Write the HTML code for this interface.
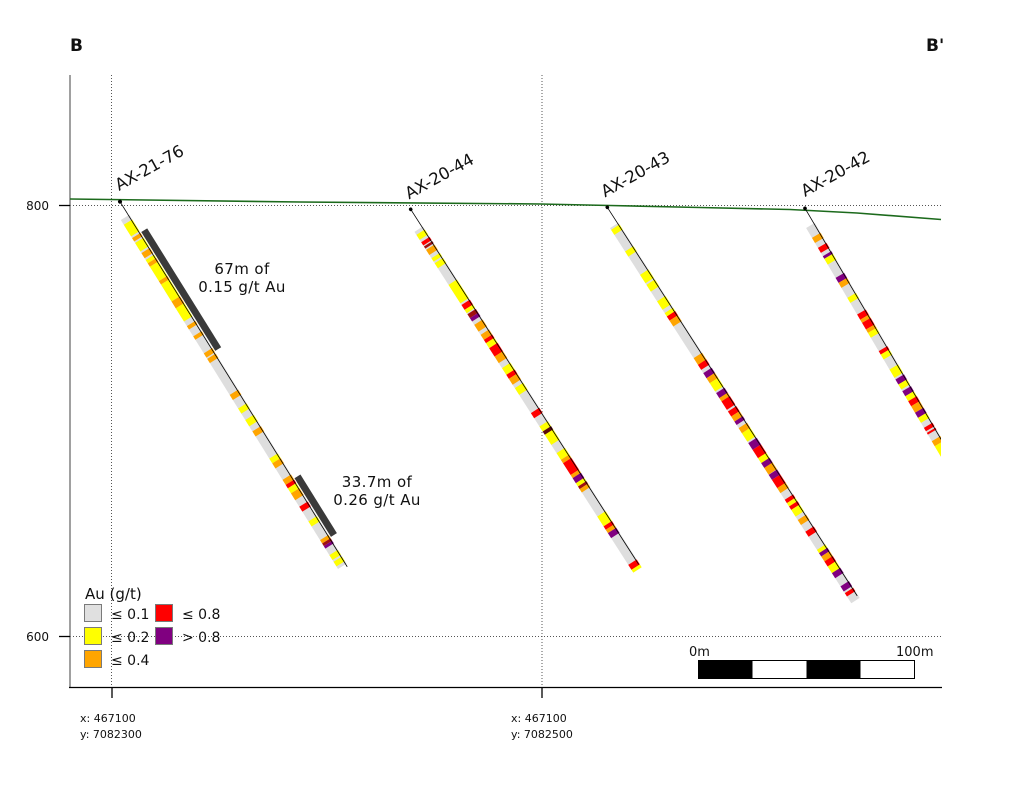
<!DOCTYPE html>
<html><head><meta charset="utf-8">
<style>
html,body{margin:0;padding:0;background:#fff;}
svg{display:block;}
text{font-family:"DejaVu Sans","Liberation Sans",sans-serif;fill:#111;}
.g{fill:#dedede}.y{fill:#ffff00}.o{fill:#ffa500}.r{fill:#ff0000}.p{fill:#800080}.d{fill:#a01010}
</style></head>
<body>
<svg width="1024" height="792" viewBox="0 0 1024 792" xmlns="http://www.w3.org/2000/svg">
<defs><clipPath id="cp"><rect x="0" y="0" width="941" height="792"/></clipPath></defs>

<!-- titles -->
<text x="70" y="51" font-size="17" font-weight="bold">B</text>
<text x="926" y="51" font-size="17" font-weight="bold">B'</text>

<!-- grid dotted -->
<g stroke="#555" stroke-width="1" stroke-dasharray="1,2" fill="none">
<line x1="111.5" y1="75" x2="111.5" y2="687"/>
<line x1="542" y1="75" x2="542" y2="687"/>
<line x1="70" y1="205.5" x2="941" y2="205.5"/>
<line x1="70" y1="636.5" x2="941" y2="636.5"/>
</g>

<!-- axes -->
<line x1="70" y1="75" x2="70" y2="688" stroke="#808080" stroke-width="1.5"/>
<line x1="69" y1="687.5" x2="942" y2="687.5" stroke="#000" stroke-width="1.3"/>
<line x1="59" y1="205.5" x2="70" y2="205.5" stroke="#000" stroke-width="1.3"/>
<line x1="59" y1="636.5" x2="70" y2="636.5" stroke="#000" stroke-width="1.3"/>
<line x1="112" y1="687" x2="112" y2="698" stroke="#000" stroke-width="1.3"/>
<line x1="542" y1="687" x2="542" y2="698" stroke="#000" stroke-width="1.3"/>
<text x="49" y="210" font-size="12" text-anchor="end">800</text>
<text x="49" y="641" font-size="12" text-anchor="end">600</text>

<text x="80" y="722" font-size="11">x: 467100</text>
<text x="80" y="738" font-size="11">y: 7082300</text>
<text x="511" y="722" font-size="11">x: 467100</text>
<text x="511" y="738" font-size="11">y: 7082500</text>

<!-- surface line -->
<path d="M70,199 L300,202 L540,204 L610,205.5 L700,207.5 L790,209.5 L857,213 L941,219.5" stroke="#1c6a1c" stroke-width="1.6" fill="none"/>

<!-- Hole 1 -->
<g transform="translate(120,201.7) rotate(58.1)">
<rect class="g" x="16" y="-1" width="411" height="10"/>
<g>
<rect class="y" x="21.6" y="-1" width="13.7" height="10"/>
<rect class="o" x="37.3" y="-1" width="4" height="10"/>
<rect class="y" x="43" y="-1" width="10" height="10"/>
<rect class="o" x="55" y="-1" width="6" height="10"/>
<rect class="y" x="63" y="-1" width="4" height="10"/>
<rect class="o" x="67" y="-1" width="4" height="10"/>
<rect class="y" x="71" y="-1" width="17" height="10"/>
<rect class="o" x="88" y="-1" width="4" height="10"/>
<rect class="y" x="92" y="-1" width="20" height="10"/>
<rect class="o" x="112" y="-1" width="8" height="10"/>
<rect class="y" x="120" y="-1" width="15.5" height="10"/>
<rect class="o" x="141" y="-1" width="4" height="10"/>
<rect class="o" x="153" y="-1" width="4" height="10"/>
<rect class="o" x="173" y="-1" width="5" height="10"/>
<rect class="o" x="179.5" y="-1" width="5" height="10"/>
<rect class="o" x="222" y="-1" width="6" height="10"/>
<rect class="y" x="238" y="-1" width="6" height="10"/>
<rect class="y" x="251.5" y="-1" width="7.5" height="10"/>
<rect class="o" x="265" y="-1" width="6" height="10"/>
<rect class="y" x="297" y="-1" width="5.6" height="10"/>
<rect class="o" x="302.6" y="-1" width="6" height="10"/>
<rect class="o" x="322" y="-1" width="6" height="10"/>
<rect class="r" x="328" y="-1" width="4" height="10"/>
<rect class="y" x="332" y="-1" width="6" height="10"/>
<rect class="o" x="338" y="-1" width="8" height="10"/>
<rect class="r" x="353.7" y="-1" width="5.8" height="10"/>
<rect class="y" x="371" y="-1" width="6" height="10"/>
<rect class="o" x="393" y="-1" width="4" height="10"/>
<rect class="d" x="397" y="-1" width="3" height="10"/>
<rect class="p" x="400" y="-1" width="3" height="10"/>
<rect class="y" x="410.7" y="-1" width="5.8" height="10"/>
<rect class="y" x="418.5" y="-1" width="5.5" height="10"/>
</g>
<line x1="0" y1="0" x2="430" y2="0" stroke="#000" stroke-width="0.8"/>
<rect x="37" y="-9" width="140" height="7" fill="#3a3a3a"/>
<rect x="327" y="-9" width="69" height="7" fill="#3a3a3a"/>
<circle cx="0" cy="0" r="2" fill="#000"/>
</g>

<!-- Hole 2 -->
<g transform="translate(410.7,209.3) rotate(57.3)">
<rect class="g" x="21" y="-1" width="405" height="10"/>
<rect class="y" x="24.6" y="-1" width="6" height="10"/>
<rect class="r" x="33.4" y="-1" width="3.9" height="10"/>
<rect class="d" x="38.5" y="-1" width="2.5" height="10"/>
<rect class="o" x="42.5" y="-1" width="6" height="10"/>
<rect class="y" x="52.4" y="-1" width="4" height="10"/>
<rect class="y" x="58.3" y="-1" width="6" height="10"/>
<rect class="y" x="84" y="-1" width="22" height="10"/>
<rect class="r" x="108" y="-1" width="5.7" height="10"/>
<rect class="y" x="113.7" y="-1" width="4" height="10"/>
<rect class="d" x="119" y="-1" width="4.6" height="10"/>
<rect class="p" x="123.6" y="-1" width="4" height="10"/>
<rect class="o" x="131.6" y="-1" width="8" height="10"/>
<rect class="o" x="143.4" y="-1" width="6" height="10"/>
<rect class="r" x="149.4" y="-1" width="4" height="10"/>
<rect class="y" x="153.3" y="-1" width="6" height="10"/>
<rect class="r" x="159.3" y="-1" width="10" height="10"/>
<rect class="o" x="169.2" y="-1" width="7.8" height="10"/>
<rect class="y" x="183" y="-1" width="8" height="10"/>
<rect class="r" x="191" y="-1" width="4.7" height="10"/>
<rect class="o" x="195.7" y="-1" width="7" height="10"/>
<rect class="y" x="206.8" y="-1" width="8" height="10"/>
<rect class="r" x="236.5" y="-1" width="6" height="10"/>
<rect class="y" x="252.3" y="-1" width="6" height="10"/>
<rect fill="#5a0a0a" x="258.3" y="-1" width="4" height="10"/>
<rect class="y" x="262.2" y="-1" width="12" height="10"/>
<rect class="y" x="284" y="-1" width="8" height="10"/>
<rect class="o" x="292" y="-1" width="4" height="10"/>
<rect class="r" x="296" y="-1" width="14" height="10"/>
<rect class="o" x="310" y="-1" width="3.7" height="10"/>
<rect class="p" x="313.7" y="-1" width="6" height="10"/>
<rect class="y" x="319.7" y="-1" width="4" height="10"/>
<rect class="d" x="323.7" y="-1" width="3" height="10"/>
<rect class="o" x="326.7" y="-1" width="4" height="10"/>
<rect class="y" x="359.3" y="-1" width="11.7" height="10"/>
<rect class="r" x="371" y="-1" width="4" height="10"/>
<rect class="o" x="375" y="-1" width="4" height="10"/>
<rect class="p" x="379" y="-1" width="6" height="10"/>
<rect class="r" x="416.7" y="-1" width="6" height="10"/>
<rect class="y" x="422.6" y="-1" width="3.4" height="10"/>
<line x1="0" y1="0" x2="422" y2="0" stroke="#000" stroke-width="0.8"/>
<circle cx="0" cy="0" r="1.8" fill="#000"/>
</g>

<!-- Hole 3 -->
<g transform="translate(607.3,207.3) rotate(57.25)">
<rect class="g" x="19" y="-1" width="446" height="10"/>
<rect class="y" x="21" y="-1" width="6" height="10"/>
<rect class="y" x="46.8" y="-1" width="6" height="10"/>
<rect class="y" x="74.5" y="-1" width="10" height="10"/>
<rect class="y" x="86.4" y="-1" width="8" height="10"/>
<rect class="y" x="106" y="-1" width="10" height="10"/>
<rect class="y" x="120" y="-1" width="4" height="10"/>
<rect class="r" x="124" y="-1" width="5" height="10"/>
<rect class="o" x="129" y="-1" width="7" height="10"/>
<rect class="o" x="173.6" y="-1" width="8" height="10"/>
<rect class="r" x="181.5" y="-1" width="6" height="10"/>
<rect class="p" x="191.4" y="-1" width="6" height="10"/>
<rect class="o" x="197.4" y="-1" width="6" height="10"/>
<rect class="y" x="203.3" y="-1" width="10" height="10"/>
<rect class="p" x="215.2" y="-1" width="6" height="10"/>
<rect class="o" x="221" y="-1" width="4" height="10"/>
<rect class="r" x="225" y="-1" width="10" height="10"/>
<rect class="r" x="237" y="-1" width="6" height="10"/>
<rect class="o" x="243" y="-1" width="6" height="10"/>
<rect class="p" x="249" y="-1" width="4" height="10"/>
<rect class="o" x="256.8" y="-1" width="6" height="10"/>
<rect class="y" x="262.8" y="-1" width="10" height="10"/>
<rect class="p" x="274.6" y="-1" width="8" height="10"/>
<rect class="r" x="282.6" y="-1" width="10" height="10"/>
<rect class="y" x="292.5" y="-1" width="6" height="10"/>
<rect class="p" x="298.4" y="-1" width="6" height="10"/>
<rect class="o" x="304" y="-1" width="8" height="10"/>
<rect class="p" x="312.3" y="-1" width="6" height="10"/>
<rect class="r" x="318.3" y="-1" width="10" height="10"/>
<rect class="o" x="328" y="-1" width="6" height="10"/>
<rect class="r" x="342" y="-1" width="4" height="10"/>
<rect class="y" x="346" y="-1" width="4" height="10"/>
<rect class="r" x="350" y="-1" width="4" height="10"/>
<rect class="y" x="354" y="-1" width="8" height="10"/>
<rect class="o" x="366" y="-1" width="6" height="10"/>
<rect class="r" x="380" y="-1" width="6" height="10"/>
<rect class="y" x="401.5" y="-1" width="4" height="10"/>
<rect class="p" x="405.4" y="-1" width="4" height="10"/>
<rect class="o" x="409.4" y="-1" width="6" height="10"/>
<rect class="r" x="415.3" y="-1" width="6" height="10"/>
<rect class="y" x="421.3" y="-1" width="8" height="10"/>
<rect class="p" x="429.2" y="-1" width="6" height="10"/>
<rect class="p" x="445" y="-1" width="6" height="10"/>
<rect class="r" x="453" y="-1" width="4" height="10"/>
<line x1="0" y1="0" x2="462" y2="0" stroke="#000" stroke-width="0.8"/>
<circle cx="0" cy="0" r="1.8" fill="#000"/>
</g>

<!-- Hole 4 -->
<g clip-path="url(#cp)">
<g transform="translate(805,208.3) rotate(59.5)">
<rect class="g" x="17.5" y="-1" width="300" height="10"/>
<rect class="o" x="29" y="-1" width="6" height="10"/>
<rect class="r" x="40.7" y="-1" width="5.8" height="10"/>
<rect class="p" x="50.3" y="-1" width="3" height="10"/>
<rect class="y" x="53.4" y="-1" width="6.6" height="10"/>
<rect class="p" x="75.5" y="-1" width="5.8" height="10"/>
<rect class="o" x="81.3" y="-1" width="5.7" height="10"/>
<rect class="y" x="98.7" y="-1" width="5.8" height="10"/>
<rect class="r" x="118" y="-1" width="6" height="10"/>
<rect class="o" x="124" y="-1" width="3.7" height="10"/>
<rect class="r" x="127.7" y="-1" width="7.7" height="10"/>
<rect class="o" x="135.4" y="-1" width="3.9" height="10"/>
<rect class="y" x="139.3" y="-1" width="5.7" height="10"/>
<rect class="r" x="160.5" y="-1" width="4" height="10"/>
<rect class="y" x="164.4" y="-1" width="5.8" height="10"/>
<rect class="y" x="181.8" y="-1" width="9.7" height="10"/>
<rect class="p" x="193.4" y="-1" width="5.8" height="10"/>
<rect class="y" x="199.2" y="-1" width="5.8" height="10"/>
<rect class="p" x="207" y="-1" width="5.8" height="10"/>
<rect class="y" x="212.8" y="-1" width="5.8" height="10"/>
<rect class="r" x="218.6" y="-1" width="5.8" height="10"/>
<rect class="o" x="224.4" y="-1" width="7.6" height="10"/>
<rect class="p" x="232" y="-1" width="5.9" height="10"/>
<rect class="y" x="237.9" y="-1" width="5.8" height="10"/>
<rect class="r" x="249.5" y="-1" width="4" height="10"/>
<rect class="r" x="255.3" y="-1" width="2" height="10"/>
<rect class="o" x="265" y="-1" width="5.8" height="10"/>
<rect class="y" x="270.8" y="-1" width="12" height="10"/>
<line x1="0" y1="0" x2="320" y2="0" stroke="#000" stroke-width="0.8"/>
<circle cx="0" cy="0" r="1.8" fill="#000"/>
</g>
</g>

<!-- hole labels -->
<text font-size="16.5" transform="translate(119,191) rotate(-29)">AX-21-76</text>
<text font-size="16.5" transform="translate(409,199.5) rotate(-29)">AX-20-44</text>
<text font-size="16.5" transform="translate(605,197.5) rotate(-29)">AX-20-43</text>
<text font-size="16.5" transform="translate(805,197) rotate(-29)">AX-20-42</text>

<!-- intercept annotations -->
<g font-size="15" text-anchor="middle" letter-spacing="0.4">
<text x="242" y="274">67m of</text>
<text x="242" y="292">0.15 g/t Au</text>
<text x="377" y="487">33.7m of</text>
<text x="377" y="505">0.26 g/t Au</text>
</g>

<!-- legend -->
<text x="85" y="599" font-size="15">Au (g/t)</text>
<g stroke="#7a7a7a" stroke-width="1">
<rect x="84.5" y="604.5" width="17" height="17" fill="#e0e0e0"/>
<rect x="84.5" y="627.5" width="17" height="17" fill="#ffff00"/>
<rect x="84.5" y="650.5" width="17" height="17" fill="#ffa500"/>
<rect x="155.5" y="604.5" width="17" height="17" fill="#ff0000"/>
<rect x="155.5" y="627.5" width="17" height="17" fill="#800080"/>
</g>
<g font-size="14">
<text x="111" y="619">≤ 0.1</text>
<text x="111" y="642">≤ 0.2</text>
<text x="111" y="665">≤ 0.4</text>
<text x="182" y="619">≤ 0.8</text>
<text x="182" y="642">&gt; 0.8</text>
</g>

<!-- scale bar -->
<text x="689" y="656" font-size="13">0m</text>
<text x="896" y="656" font-size="13">100m</text>
<rect x="698.5" y="660.5" width="216" height="18" fill="#fff" stroke="#000" stroke-width="1"/>
<rect x="698.5" y="660.5" width="54" height="18" fill="#000"/>
<rect x="806.5" y="660.5" width="54" height="18" fill="#000"/>
</svg>
</body></html>
